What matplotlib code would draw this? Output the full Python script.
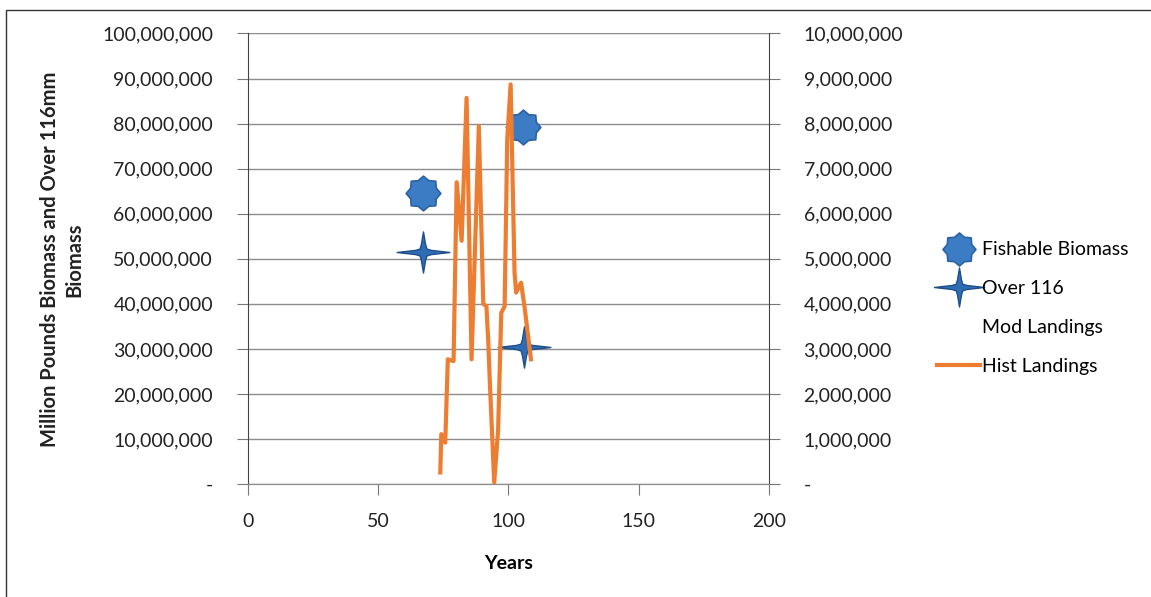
import numpy as np
import matplotlib.pyplot as plt
import matplotlib.patches as patches
from matplotlib.path import Path
from matplotlib.ticker import FuncFormatter

plt.rcParams['font.family'] = ['Lato', 'DejaVu Sans']

# Fishable biomass and over-116mm biomass (left axis, pounds)
biomass_years = [67.3, 105.5]
fishable_biomass = [64700000, 79200000]
over116_years = [67.3, 106.0]
over116_biomass = [51400000, 30400000]

# Historic landings (right axis, pounds)
hist_years = [73.9, 74.3, 75.8, 76.8, 79.0, 80.2, 82.1, 84.0, 85.9, 88.7, 90.4,
              91.6, 92.3, 92.9, 94.6, 96.1, 97.3, 98.6, 99.6, 100.9, 102.4,
              103.0, 104.9, 106.2, 108.7]
hist_landings = [260000, 1110000, 920000, 2770000, 2730000, 6700000, 5400000,
                 8570000, 2770000, 7940000, 4000000, 3950000, 3200000, 2300000,
                 40000, 1200000, 3800000, 3950000, 7650000, 8870000, 4700000,
                 4250000, 4470000, 3950000, 2770000]

left_ticks = list(range(0, 100000001, 10000000))
right_ticks = list(range(0, 10000001, 1000000))
x_ticks = [0, 50, 100, 150, 200]


def fmt(v, pos=None):
    if v == 0:
        return "-"
    return f"{v:,.0f}"


# four point star, wider than tall, arms a bit fatter near the middle
star4 = Path([(-1.0, 0), (-0.3, 0.08), (-0.13, 0.13), (-0.08, 0.3), (0, 0.78),
              (0.08, 0.3), (0.13, 0.13), (0.3, 0.08), (1.0, 0),
              (0.3, -0.08), (0.13, -0.13), (0.08, -0.3), (0, -0.78),
              (-0.08, -0.3), (-0.13, -0.13), (-0.3, -0.08), (-1.0, 0)],
             [Path.MOVETO] + [Path.LINETO] * 15 + [Path.CLOSEPOLY])

# rounded-looking 8 point badge star
ang = np.linspace(0, 2 * np.pi, 16, endpoint=False) + np.pi / 2
rad = np.where(np.arange(16) % 2 == 0, 1.0, 0.8)
badge_pts = list(zip(rad * np.cos(ang), rad * np.sin(ang)))
badge = Path(badge_pts + [badge_pts[0]], [Path.MOVETO] + [Path.LINETO] * 15 + [Path.CLOSEPOLY])

fig = plt.figure(figsize=(11.51, 5.97), dpi=100)
ax = fig.add_axes([0.2152, 0.189, 0.668 - 0.2152, 0.944 - 0.189])
ax2 = ax.twinx()

# outer border (left and top edges visible)
fig.patches.append(patches.Rectangle((6 / 1151, -0.1), 1.2, 1 - 10 / 597 + 0.1,
                                     transform=fig.transFigure, fill=False,
                                     edgecolor='#333333', linewidth=1.0))

ax.plot(biomass_years, fishable_biomass, linestyle='none', marker=badge,
        markersize=25, markerfacecolor='#3b7cc4', markeredgecolor='#2b62a3',
        markeredgewidth=1.2, label='Fishable Biomass', zorder=5)
ax.plot(over116_years, over116_biomass, linestyle='none', marker=star4,
        markersize=38, markerfacecolor='#2e6db4', markeredgecolor='#1f4e8a',
        markeredgewidth=1, label='Over 116', zorder=5)
ax.plot([], [], linestyle='none', label='Mod Landings')
ax2.plot(hist_years, hist_landings, color='#ed7d31', linewidth=3, label='Hist Landings')

ax.set_xlim(0, 200)
ax.set_ylim(0, 100000000)
ax2.set_ylim(0, 10000000)
ax.set_xticks(x_ticks)
ax.set_yticks(left_ticks)
ax2.set_yticks(right_ticks)
ax.yaxis.set_major_formatter(FuncFormatter(fmt))
ax2.yaxis.set_major_formatter(FuncFormatter(fmt))

ax.grid(axis='y', color='#8c8c8c', linewidth=1)
ax.set_axisbelow(True)
for a in (ax, ax2):
    a.spines['top'].set_visible(False)
    a.spines['left'].set_color('#444444')
    a.spines['right'].set_color('#444444')
    a.spines['bottom'].set_color('#8c8c8c')
ax2.spines['left'].set_visible(False)
ax.spines['right'].set_visible(False)

ax.tick_params(axis='y', length=8, color='#777777', labelsize=14, pad=17, labelcolor='#222222')
ax2.tick_params(axis='y', length=8, color='#777777', labelsize=14, pad=17, labelcolor='#222222')
ax.tick_params(axis='x', length=8, color='#777777', labelsize=14, pad=13, labelcolor='#222222')

ax.set_xlabel('Years', fontsize=14, fontweight='bold', labelpad=18)
fig.text(0.054, 0.565, 'Million Pounds Biomass and Over 116mm\nBiomass', rotation=90,
         ha='center', va='center', fontsize=14.5, fontweight='bold', color='#222222',
         multialignment='center', linespacing=1.3)

h1, l1 = ax.get_legend_handles_labels()
h2, l2 = ax2.get_legend_handles_labels()
leg = fig.legend(h1 + h2, l1 + l2, loc='center left', bbox_to_anchor=(0.799, 0.484),
                 frameon=False, fontsize=14, labelspacing=1.12, handlelength=2.2,
                 handletextpad=0.1, markerscale=0.95)

fig.savefig('out.png', dpi=100)
